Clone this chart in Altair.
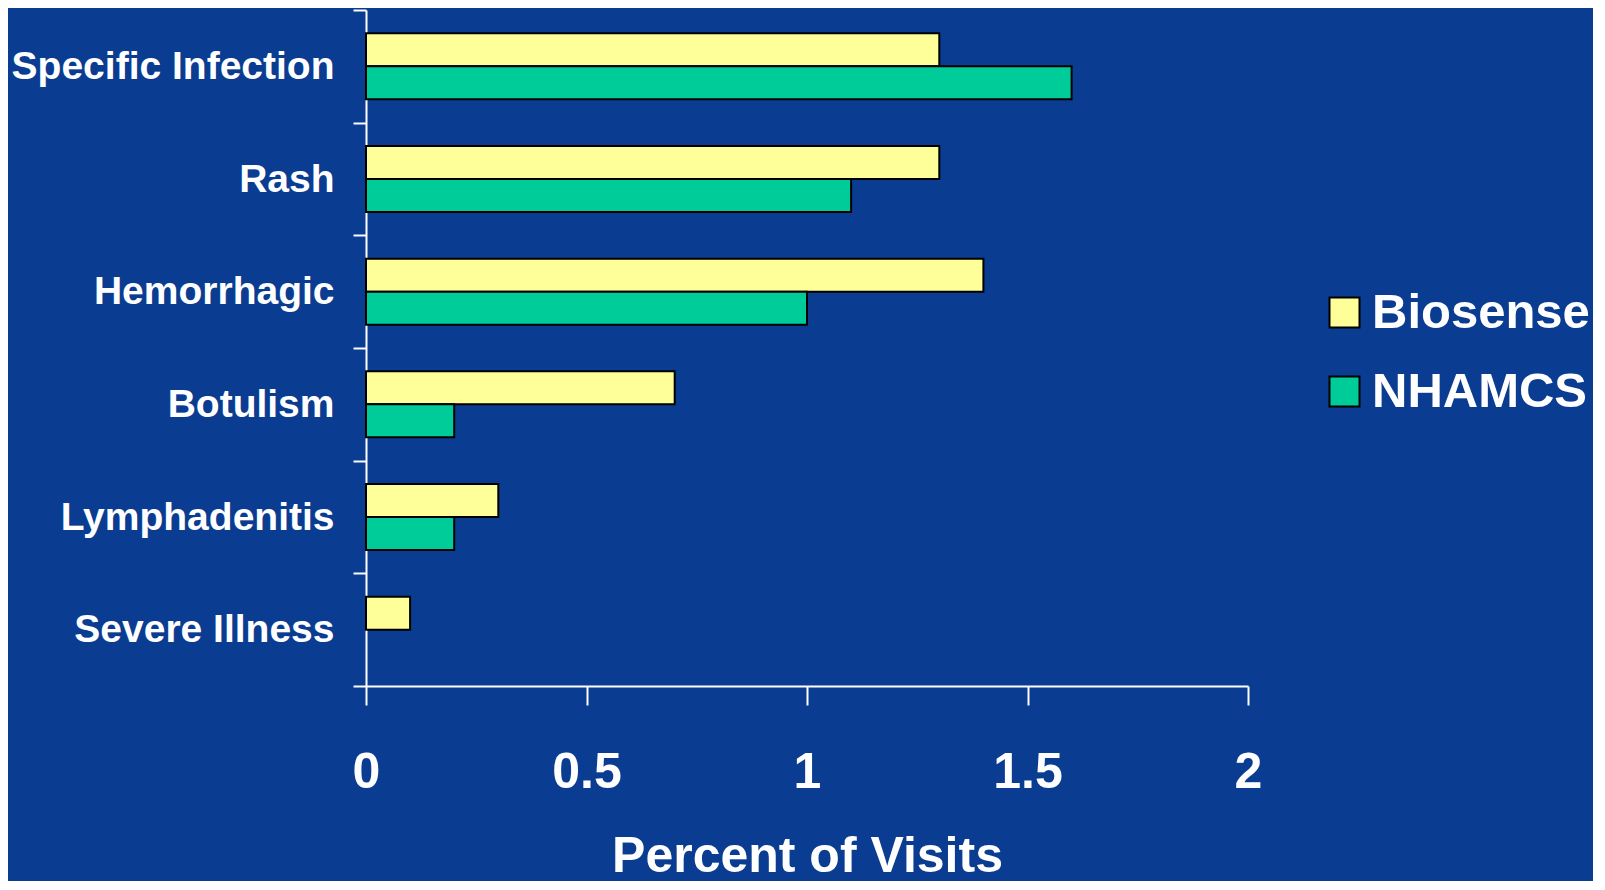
import altair as alt
import pandas as pd

categories = ["Specific Infection", "Rash", "Hemorrhagic", "Botulism", "Lymphadenitis", "Severe Illness"]
series = ["Biosense", "NHAMCS"]
biosense = [1.3, 1.3, 1.4, 0.7, 0.3, 0.1]
nhamcs = [1.6, 1.1, 1.0, 0.2, 0.2, None]
x_ticks = [0, 0.5, 1, 1.5, 2]
colors = ["#FFFF99", "#00CC99"]
BG = "#0A3D91"
FONT = "Liberation Sans"

rows = []
for c, b, n in zip(categories, biosense, nhamcs):
    rows.append({"category": c, "series": "Biosense", "value": b})
    if n is not None:
        rows.append({"category": c, "series": "NHAMCS", "value": n})
df = pd.DataFrame(rows)

chart = alt.Chart(df).mark_bar(stroke="black", strokeWidth=2, strokeOpacity=1).encode(
    y=alt.Y("category:N", sort=categories,
            scale=alt.Scale(paddingInner=0, paddingOuter=0),
            axis=alt.Axis(title=None, tickBand="extent", domainColor="white", domainWidth=2,
                          tickColor="white", tickWidth=2, tickSize=13, labelPadding=19,
                          labelColor="white", labelFont=FONT, labelFontSize=39,
                          labelFontWeight="bold", labelLimit=500)),
    yOffset=alt.YOffset("series:N", sort=series,
                        scale=alt.Scale(domain=series, paddingInner=0, paddingOuter=0.7075)),
    x=alt.X("value:Q", scale=alt.Scale(domain=[0, 2], nice=False),
            axis=alt.Axis(values=x_ticks, format="~g", title="Percent of Visits",
                          domainColor="white", domainWidth=2, tickColor="white", tickWidth=2,
                          tickSize=19, labelColor="white", labelFont=FONT,
                          labelFontSize=50, labelFontWeight="bold", labelBaseline="alphabetic",
                          labelPadding=82, labelFlush=False,
                          titleColor="white", titleFont=FONT,
                          titleFontSize=50, titleFontWeight="bold", titleBaseline="alphabetic",
                          titleY=185, titleX=441, titleAlign="center", grid=False)),
    color=alt.Color("series:N", sort=series,
                    scale=alt.Scale(domain=series, range=colors),
                    legend=alt.Legend(title=None, orient="none", legendX=954, legendY=278,
                                      symbolType="square", symbolSize=900,
                                      symbolStrokeColor="black", symbolStrokeWidth=2,
                                      symbolOpacity=1,
                                      labelColor="white", labelFont=FONT,
                                      labelFontSize=49, labelFontWeight="bold",
                                      labelOffset=3, rowPadding=29, labelLimit=400)),
).properties(
    width=882,
    height=676,
    background=BG,
    autosize=alt.AutoSizeParams(type="none"),
    padding={"left": 358, "top": 2, "right": 345, "bottom": 195},
).configure_view(stroke=None)

chart.save("out.html", embed_options={"renderer": "svg", "actions": False})
